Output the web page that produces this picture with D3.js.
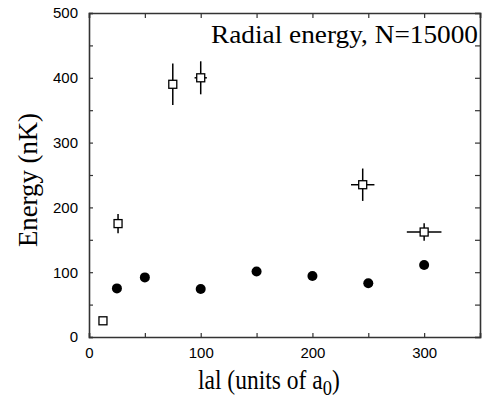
<!DOCTYPE html>
<html>
<head>
<meta charset="utf-8">
<style>
  body { margin: 0; background: #fff; }
  svg { display: block; }
  .tick text { font-family: "Liberation Sans", Arial, sans-serif; font-size: 15px; fill: #000; }
  .lbl { font-family: "Liberation Serif", "Times New Roman", serif; fill: #000; }
</style>
<script src="https://d3js.org/d3.v7.min.js"></script>
</head>
<body>
<div id="chart"></div>
<script>
// open squares with error bars
var squareX    = [12.5, 26, 75, 100, 245, 300];
var squareY    = [25, 175, 390, 400, 235, 162];
var squareYErr = [0, 15, 32, 25.5, 25, 13.5];
var squareXErr = [0, 0, 0, 5.5, 10.5, 15.5];

// filled circles
var circleX = [25, 50, 100, 150, 200, 250, 300];
var circleY = [75, 92, 74, 101, 94, 83, 111];

var xTicks = [0, 50, 100, 150, 200, 250, 300, 350];
var yTicks = [0, 50, 100, 150, 200, 250, 300, 350, 400, 450, 500];

var width = 484, height = 398;
var margin = {top: 13, right: 4, bottom: 61, left: 89};

var svg = d3.select("#chart").append("svg")
    .attr("width", width)
    .attr("height", height);

var x = d3.scaleLinear().domain([0, 350]).range([margin.left, width - margin.right]);
var y = d3.scaleLinear().domain([0, 500]).range([height - margin.bottom, margin.top]);

function major(d) { return d % 100 === 0 ? d : ""; }

// axes, ticks pointing inward on all four sides
svg.append("g")
    .attr("transform", "translate(0," + y(0) + ")")
    .call(d3.axisBottom(x).tickValues(xTicks).tickSize(-4).tickPadding(10).tickFormat(function(d) { return d === 350 ? "" : major(d); }));
svg.append("g")
    .attr("transform", "translate(0," + y(500) + ")")
    .call(d3.axisTop(x).tickValues(xTicks).tickSize(-5).tickFormat(""));
svg.append("g")
    .attr("transform", "translate(" + x(0) + ",0)")
    .call(d3.axisLeft(y).tickValues(yTicks).tickSize(-4).tickPadding(11).tickFormat(major));
svg.append("g")
    .attr("transform", "translate(" + x(350) + ",0)")
    .call(d3.axisRight(y).tickValues(yTicks).tickSize(-5).tickFormat(""));

svg.selectAll(".domain").attr("stroke", "#333").attr("stroke-width", 1.6);
svg.selectAll(".tick line").attr("stroke", "#333").attr("stroke-width", 1.2);

// error bars
var sq = squareX.map(function(d, i) {
  return {x: d, y: squareY[i], ey: squareYErr[i], ex: squareXErr[i]};
});

var eb = svg.append("g").attr("stroke", "#000").attr("stroke-width", 1.5);
eb.selectAll(".ey").data(sq.filter(function(d) { return d.ey > 0; }))
  .enter().append("line")
    .attr("x1", function(d) { return x(d.x); })
    .attr("x2", function(d) { return x(d.x); })
    .attr("y1", function(d) { return y(d.y + d.ey); })
    .attr("y2", function(d) { return y(d.y - d.ey); });
eb.selectAll(".ex").data(sq.filter(function(d) { return d.ex > 0; }))
  .enter().append("line")
    .attr("x1", function(d) { return x(d.x - d.ex); })
    .attr("x2", function(d) { return x(d.x + d.ex); })
    .attr("y1", function(d) { return y(d.y); })
    .attr("y2", function(d) { return y(d.y); });

// squares
svg.selectAll(".sq").data(sq).enter().append("rect")
    .attr("x", function(d) { return x(d.x) - 4; })
    .attr("y", function(d) { return y(d.y) - 4; })
    .attr("width", 8)
    .attr("height", 8)
    .attr("fill", "#fff")
    .attr("stroke", "#000")
    .attr("stroke-width", 1.3);

// circles
svg.selectAll(".dot").data(circleX).enter().append("circle")
    .attr("cx", function(d) { return x(d); })
    .attr("cy", function(d, i) { return y(circleY[i]); })
    .attr("r", 5)
    .attr("fill", "#000");

// title inside plot
svg.append("text")
    .attr("class", "lbl")
    .attr("x", 211)
    .attr("y", 43)
    .attr("font-size", 26)
    .attr("textLength", 267)
    .attr("lengthAdjust", "spacingAndGlyphs")
    .text("Radial energy, N=15000");

// y label
svg.append("text")
    .attr("class", "lbl")
    .attr("transform", "translate(37,180) rotate(-90)")
    .attr("text-anchor", "middle")
    .attr("font-size", 27)
    .attr("textLength", 134)
    .attr("lengthAdjust", "spacingAndGlyphs")
    .text("Energy (nK)");

// x label with subscript
var xl = svg.append("g")
    .attr("transform", "translate(198,389) scale(0.84,1)")
  .append("text")
    .attr("class", "lbl")
    .attr("font-size", 28);
xl.append("tspan").text("lal (units of a");
xl.append("tspan").attr("dy", 6).attr("font-size", 22).text("0");
xl.append("tspan").attr("dy", -6).text(")");
</script>
</body>
</html>
